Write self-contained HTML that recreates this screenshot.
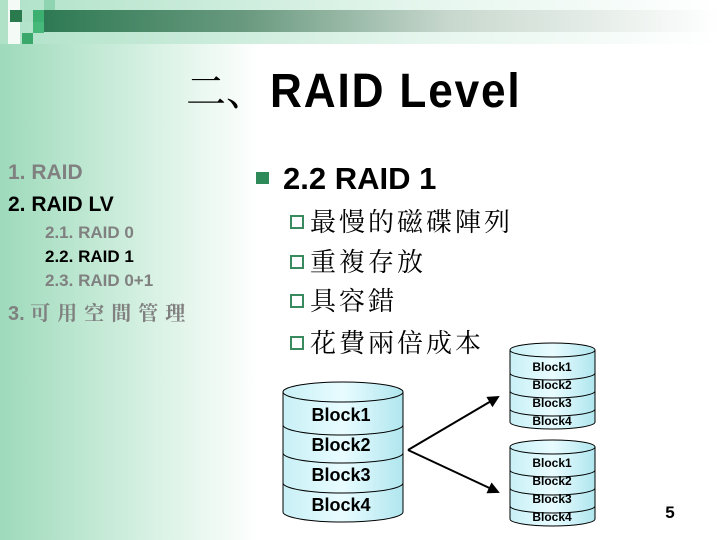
<!DOCTYPE html>
<html><head><meta charset="utf-8"><style>
body{margin:0}
#p{position:relative;width:720px;height:540px;overflow:hidden;background:#fff;font-family:"Liberation Sans","Noto Sans CJK TC",sans-serif}
.a{position:absolute;white-space:nowrap;line-height:1}
.cj{font-family:"Liberation Serif","Noto Serif CJK SC",serif}
.cb{display:inline-block;width:14px;height:14px;border:2px solid #3a8a60;box-sizing:border-box;margin-right:6px;vertical-align:2px}
</style></head><body><div id="p">
<div class="a" style="left:0;top:40px;width:260px;height:500px;background:linear-gradient(to right,#9edabb,#d4f0e1 55%,#fff)"></div>
<div class="a" style="left:0;top:0;width:720px;height:44px;background:linear-gradient(to right,#b0e2c8,#e6f6ee 60%,#fff)"></div>
<div class="a" style="left:44px;top:10px;width:676px;height:22px;background:linear-gradient(to right,#2e7a54,#6a9a80 30%,#c8d8ce 60%,#fff 100%)"></div>
<div class="a" style="left:8px;top:0;width:12px;height:44px;background:#f4fbf7"></div>
<div class="a" style="left:10px;top:10px;width:12px;height:12px;background:#2a7a4e"></div>
<div class="a" style="left:22px;top:10px;width:11px;height:12px;background:#b0e0c8"></div>
<div class="a" style="left:33px;top:10px;width:11px;height:12px;background:#3bb070"></div>
<div class="a" style="left:44px;top:0;width:11px;height:10px;background:#8fd4b0"></div>
<div class="a" style="left:33px;top:22px;width:11px;height:11px;background:#46b87a"></div>
<div class="a" style="left:22px;top:33px;width:11px;height:11px;background:#3aa86a"></div>
<div class="a cj" style="left:186px;top:72px;font-size:40px">二、</div>
<div class="a" style="left:270px;top:68px;font-size:48px;font-weight:bold;letter-spacing:2px;transform:scaleX(0.92);transform-origin:left">RAID Level</div>
<div class="a" style="left:8px;top:162px;font-size:21px;font-weight:bold;color:#808080">1. RAID</div>
<div class="a" style="left:8px;top:194px;font-size:21px;font-weight:bold">2. RAID LV</div>
<div class="a" style="left:45px;top:224px;font-size:17px;font-weight:bold;color:#808080">2.1. RAID 0</div>
<div class="a" style="left:45px;top:248px;font-size:17px;font-weight:bold">2.2. RAID 1</div>
<div class="a" style="left:45px;top:272px;font-size:17px;font-weight:bold;color:#808080">2.3. RAID 0+1</div>
<div class="a" style="left:8px;top:304px;font-size:20px;font-weight:bold;color:#808080">3. <span class="cj" style="font-size:20px;letter-spacing:7px">可用空間管理</span></div>
<div class="a" style="left:256px;top:172px;width:13px;height:12px;background:#2e8a58"></div>
<div class="a" style="left:283px;top:163px;font-size:31px;font-weight:bold">2.2 RAID 1</div>
<div class="a cj" style="left:290px;top:210px;font-size:26px;letter-spacing:3px"><span class="cb"></span>最慢的磁碟陣列</div>
<div class="a cj" style="left:290px;top:250px;font-size:26px;letter-spacing:3px"><span class="cb"></span>重複存放</div>
<div class="a cj" style="left:290px;top:289px;font-size:26px;letter-spacing:3px"><span class="cb"></span>具容錯</div>
<div class="a cj" style="left:290px;top:331px;font-size:26px;letter-spacing:3px"><span class="cb"></span>花費兩倍成本</div>
<svg class="a" style="left:0;top:0" width="720" height="540">
<defs><linearGradient id="g" x1="0" x2="1"><stop offset="0" stop-color="#c8f0f6"/><stop offset=".5" stop-color="#e8fcff"/><stop offset="1" stop-color="#b0e6ee"/></linearGradient>
<marker id="m" markerWidth="6" markerHeight="6" refX="5" refY="3" orient="auto" markerUnits="strokeWidth"><path d="M0,0L6,3L0,6z"/></marker></defs>
<g stroke="#000" stroke-width="1" fill="url(#g)">
<path d="M283,392 V512 A60,10 0 0 0 403,512 V392"/>
<ellipse cx="343" cy="392" rx="60" ry="10"/>
<path d="M283,425 A60,10 0 0 0 403,425 M283,453 A60,10 0 0 0 403,453 M283,483 A60,10 0 0 0 403,483" fill="none"/>
<path d="M510,350 V422 A42.5,7 0 0 0 595,422 V350"/>
<ellipse cx="552.5" cy="350" rx="42.5" ry="7"/>
<path d="M510,373 A42.5,7 0 0 0 595,373 M510,391 A42.5,7 0 0 0 595,391 M510,409 A42.5,7 0 0 0 595,409" fill="none"/>
<path d="M510,447 V519 A42.5,7 0 0 0 595,519 V447"/>
<ellipse cx="552.5" cy="447" rx="42.5" ry="7"/>
<path d="M510,470 A42.5,7 0 0 0 595,470 M510,488 A42.5,7 0 0 0 595,488 M510,506 A42.5,7 0 0 0 595,506" fill="none"/>
</g>
<g stroke="#000" stroke-width="2" fill="none"><path d="M408,450 L498,397" marker-end="url(#m)"/><path d="M408,450 L498,492" marker-end="url(#m)"/></g>
<g font-family="Liberation Sans" font-weight="bold" text-anchor="middle">
<g font-size="18"><text x="341" y="421">Block1</text><text x="341" y="451">Block2</text><text x="341" y="481">Block3</text><text x="341" y="511">Block4</text></g>
<g font-size="12"><text x="552" y="371">Block1</text><text x="552" y="389">Block2</text><text x="552" y="407">Block3</text><text x="552" y="425">Block4</text>
<text x="552" y="467">Block1</text><text x="552" y="485">Block2</text><text x="552" y="503">Block3</text><text x="552" y="521">Block4</text></g>
<text x="670" y="518" font-size="17">5</text></g>
</svg>
</div></body></html>
